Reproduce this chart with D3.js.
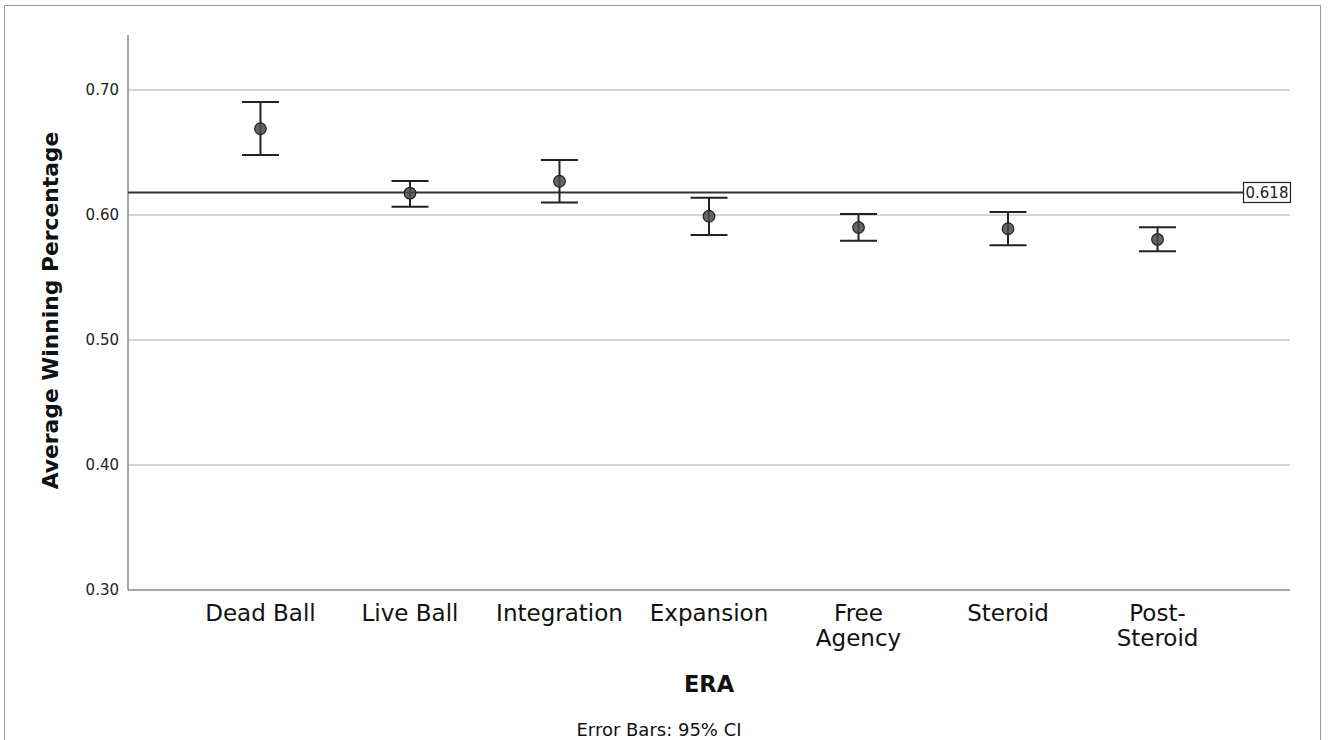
<!DOCTYPE html>
<html><head><meta charset="utf-8">
<script src="https://cdn.jsdelivr.net/npm/d3@7"></script>
<style>
html,body{margin:0;padding:0;background:#fff;}
svg{display:block;font-family:"DejaVu Sans",sans-serif;}
</style></head>
<body><svg id="chart" width="1328" height="740"></svg>
<script>
const categories = ["Dead Ball","Live Ball","Integration","Expansion","Free Agency","Steroid","Post-Steroid"];
const categoryLines = [["Dead Ball"],["Live Ball"],["Integration"],["Expansion"],["Free","Agency"],["Steroid"],["Post-","Steroid"]];
const means = [0.669, 0.6175, 0.627, 0.599, 0.590, 0.589, 0.5805];
const lower = [0.648, 0.6066, 0.610, 0.584, 0.5795, 0.5758, 0.571];
const upper = [0.6904, 0.6272, 0.644, 0.6138, 0.6008, 0.6024, 0.5902];
const yTicks = [0.30, 0.40, 0.50, 0.60, 0.70];
const refValue = 0.618;

const svg = d3.select("#chart");
const pLeft = 128, pRight = 1290, pTop = 35, pBottom = 590;

// outer frame
svg.append("rect").attr("x",4.5).attr("y",5.5).attr("width",1316).attr("height",760)
  .attr("fill","none").attr("stroke","#9a9a9a").attr("stroke-width",1);

const y = d3.scaleLinear().domain([0.30, 0.744]).range([pBottom, pTop]);
const x = d3.scalePoint().domain(categories).range([pLeft, pRight]).padding(0.886);

// gridlines
svg.append("g").selectAll("line").data(yTicks.filter(d=>d>0.3)).join("line")
  .attr("x1",pLeft).attr("x2",pRight).attr("y1",d=>y(d)).attr("y2",d=>y(d))
  .attr("stroke","#c9c9c9").attr("stroke-width",1.5);

// axes lines
svg.append("line").attr("x1",pLeft).attr("x2",pLeft).attr("y1",pTop).attr("y2",pBottom)
  .attr("stroke","#8a8a8a").attr("stroke-width",1.5);
svg.append("line").attr("x1",pLeft).attr("x2",pRight).attr("y1",pBottom).attr("y2",pBottom)
  .attr("stroke","#8a8a8a").attr("stroke-width",1.5);

// y tick labels via axis
const yAxis = d3.axisLeft(y).tickValues(yTicks).tickFormat(d3.format(".2f")).tickSize(0).tickPadding(9);
const yg = svg.append("g").attr("transform",`translate(${pLeft},0)`).call(yAxis);
yg.select(".domain").remove();
yg.selectAll("text").attr("font-size",15).attr("fill","#222").attr("font-family","DejaVu Sans, sans-serif");

// reference line
svg.append("line").attr("x1",pLeft).attr("x2",pRight).attr("y1",y(refValue)).attr("y2",y(refValue))
  .attr("stroke","#333").attr("stroke-width",2);
const lab = svg.append("g");
lab.append("rect").attr("x",1243.5).attr("y",y(refValue)-10).attr("width",47).attr("height",20)
  .attr("fill","#fff").attr("stroke","#222").attr("stroke-width",1.2);
lab.append("text").attr("x",1245.5).attr("y",y(refValue)+5.5)
  .attr("font-size",15).attr("fill","#222").text(d3.format(".3f")(refValue));

// error bars
const eb = svg.append("g").selectAll("g").data(categories).join("g");
eb.append("line").attr("x1",d=>x(d)).attr("x2",d=>x(d))
  .attr("y1",(d,i)=>y(upper[i])).attr("y2",(d,i)=>y(lower[i]))
  .attr("stroke","#222").attr("stroke-width",2);
eb.append("line").attr("x1",d=>x(d)-18.5).attr("x2",d=>x(d)+18.5)
  .attr("y1",(d,i)=>y(upper[i])).attr("y2",(d,i)=>y(upper[i]))
  .attr("stroke","#222").attr("stroke-width",2);
eb.append("line").attr("x1",d=>x(d)-18.5).attr("x2",d=>x(d)+18.5)
  .attr("y1",(d,i)=>y(lower[i])).attr("y2",(d,i)=>y(lower[i]))
  .attr("stroke","#222").attr("stroke-width",2);
eb.append("circle").attr("cx",d=>x(d)).attr("cy",(d,i)=>y(means[i])).attr("r",5.8)
  .attr("fill","#4a4a4a").attr("fill-opacity",0.85).attr("stroke","#222").attr("stroke-width",1.2);

// x labels
const xl = svg.append("g").selectAll("text").data(categories).join("text")
  .attr("x",d=>x(d)).attr("y",621).attr("text-anchor","middle")
  .attr("font-size",23).attr("fill","#111");
xl.each(function(d,i){
  const t = d3.select(this);
  categoryLines[i].forEach((ln,j)=>{
    t.append("tspan").attr("x",x(d)).attr("dy", j===0?0:25).text(ln);
  });
});

// axis titles
svg.append("text").attr("x",(pLeft+pRight)/2).attr("y",692).attr("text-anchor","middle")
  .attr("font-size",22.5).attr("font-weight","bold").attr("fill","#111").text("ERA");
svg.append("text").attr("transform",`translate(58,310.5) rotate(-90)`)
  .attr("text-anchor","middle").attr("font-size",21.8).attr("font-weight","bold").attr("fill","#111")
  .text("Average Winning Percentage");
svg.append("text").attr("x",659).attr("y",736).attr("text-anchor","middle")
  .attr("font-size",18).attr("fill","#111").text("Error Bars: 95% CI");
</script></body></html>
